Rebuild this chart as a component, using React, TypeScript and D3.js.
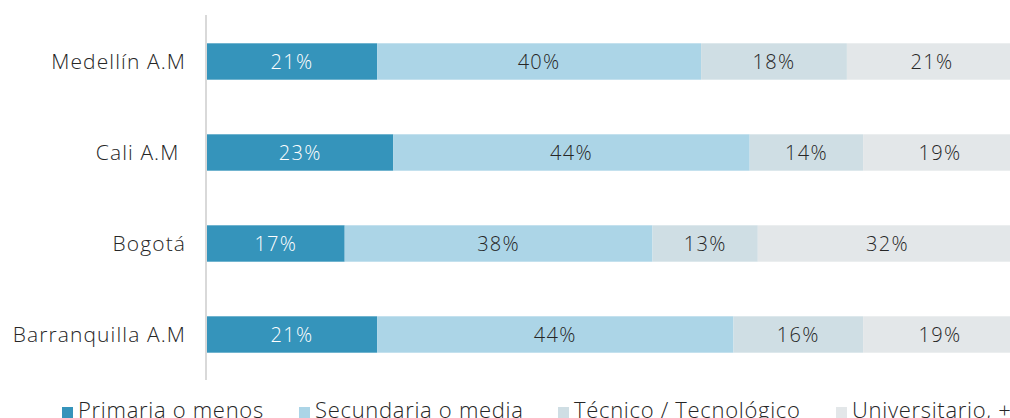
import React, { useEffect, useRef } from "react";
import * as d3 from "d3";

const categories = ["Medellín A.M", "Cali A.M ", "Bogotá", "Barranquilla A.M"];
const series = ["Primaria o menos", "Secundaria o media", "Técnico / Tecnológico", "Universitario, +"];
const primaria = [21, 23, 17, 21];
const secundaria = [40, 44, 38, 44];
const tecnico = [18, 14, 13, 16];
const universitario = [21, 19, 32, 19];
const colors = ["#3594bb", "#acd5e7", "#cfdee4", "#e3e7e9"];
const textColors = ["#ffffff", "#262626", "#262626", "#262626"];
const legendX = [62, 299, 558, 836];

const W = 1010;
const H = 418;
const FONT = "'Open Sans', Lato, sans-serif";

const App = () => {
  const ref = useRef<SVGSVGElement>(null);

  useEffect(() => {
    document.body.style.margin = "0";
    const svg = d3.select(ref.current);
    svg.selectAll("*").remove();

    const rows = categories.map((c, i) => ({
      name: c,
      values: [primaria[i], secundaria[i], tecnico[i], universitario[i]],
    }));

    const x = d3.scaleLinear().domain([0, 100]).range([207, 1017]);
    const y = d3
      .scaleBand()
      .domain(categories)
      .range([16, 380])
      .paddingInner(0.6)
      .paddingOuter(0.3);

    // stacked segments
    const stack = d3.stack<any>().keys(d3.range(4).map(String)).value((d, k) => d.values[+k]);
    const layers = stack(rows);

    const g = svg.append("g");
    layers.forEach((layer, si) => {
      g.selectAll("rect.s" + si)
        .data(layer)
        .enter()
        .append("rect")
        .attr("x", (d) => x(d[0]))
        .attr("y", (d) => y(d.data.name)!)
        .attr("width", (d) => x(d[1]) - x(d[0]))
        .attr("height", y.bandwidth())
        .attr("fill", colors[si]);

      g.selectAll("text.s" + si)
        .data(layer)
        .enter()
        .append("text")
        .attr("x", (d) => (x(d[0]) + x(d[1])) / 2)
        .attr("y", (d) => y(d.data.name)! + y.bandwidth() / 2)
        .attr("dy", "0.36em")
        .attr("text-anchor", "middle")
        .attr("font-family", FONT)
        .attr("font-weight", 300)
        .attr("font-size", 20)
        .attr("letter-spacing", 1.3)
        .attr("fill", textColors[si])
        .text((d) => d.data.values[si] + "%");
    });

    // axis line
    svg
      .append("line")
      .attr("x1", 206)
      .attr("x2", 206)
      .attr("y1", 15)
      .attr("y2", 380)
      .attr("stroke", "#d9d9d9")
      .attr("stroke-width", 2);

    // category labels
    svg
      .selectAll("text.cat")
      .data(categories)
      .enter()
      .append("text")
      .attr("x", 186)
      .attr("y", (d) => y(d)! + y.bandwidth() / 2)
      .attr("dy", "0.36em")
      .attr("text-anchor", "end")
      .attr("font-family", FONT)
      .attr("font-weight", 300)
      .attr("font-size", 21)
      .attr("letter-spacing", 1.1)
      .attr("fill", "#262626")
      .style("white-space", "pre")
      .text((d) => d);

    // legend
    const lg = svg
      .selectAll("g.leg")
      .data(series)
      .enter()
      .append("g")
      .attr("transform", (d, i) => `translate(${legendX[i]},0)`);
    lg.append("rect")
      .attr("x", 0)
      .attr("y", 407)
      .attr("width", 11)
      .attr("height", 11)
      .attr("fill", (d, i) => colors[i]);
    lg.append("text")
      .attr("x", 16)
      .attr("y", 418)
      .attr("font-family", FONT)
      .attr("font-weight", 300)
      .attr("font-size", 22)
      .attr("letter-spacing", 0.7)
      .attr("fill", "#262626")
      .text((d) => d);
  }, []);

  return <svg ref={ref} width={W} height={H} style={{ display: "block" }}></svg>;
};

export default App;
